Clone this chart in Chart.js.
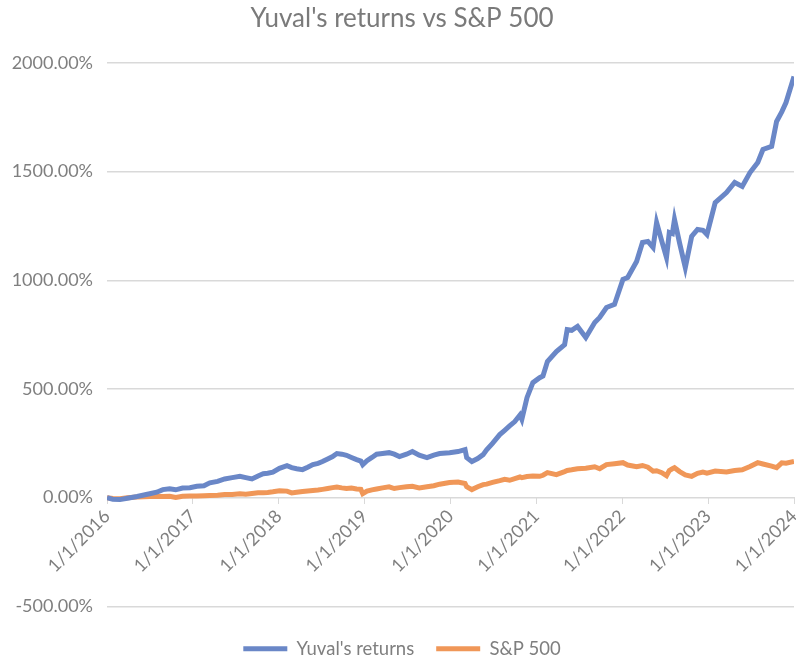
<!DOCTYPE html>
<html>
<head>
<meta charset="utf-8">
<script src="https://cdn.jsdelivr.net/npm/chart.js@4.4.1/dist/chart.umd.min.js"></script>
<style>
  html, body { margin: 0; padding: 0; background: #fff; }
  #wrap { width: 796px; height: 662px; }
</style>
</head>
<body>
<div id="wrap"><canvas id="returnsChart"></canvas></div>
<script>
// dates of each reading and the two cumulative return series (in %)
const dates = [
  '2016-01-01','2016-01-26','2016-02-25','2016-03-28','2016-05-08','2016-07-01','2016-07-31','2016-08-26',
  '2016-09-24','2016-10-20','2016-11-18','2016-12-19','2017-01-18','2017-02-17','2017-03-14','2017-04-16',
  '2017-05-16','2017-06-17','2017-07-20','2017-08-14','2017-09-09','2017-10-05','2017-10-27','2017-11-15',
  '2017-12-07','2018-01-04','2018-02-05','2018-02-25','2018-03-18','2018-04-12','2018-05-04','2018-05-26',
  '2018-06-17','2018-07-06','2018-07-28','2018-08-18','2018-09-05','2018-09-26','2018-10-16','2018-11-06',
  '2018-11-28','2018-12-16','2018-12-24','2019-01-11','2019-02-01','2019-02-21','2019-03-18','2019-04-15',
  '2019-05-07','2019-05-29','2019-06-28','2019-07-23','2019-08-21','2019-09-23','2019-10-22','2019-11-16',
  '2019-12-28','2020-02-02','2020-03-03','2020-03-10','2020-04-01','2020-04-26','2020-05-19','2020-06-03',
  '2020-06-28','2020-07-29','2020-08-19','2020-09-09','2020-10-01','2020-10-23','2020-10-31','2020-11-22',
  '2020-12-17','2021-01-15','2021-01-29','2021-02-17','2021-03-27','2021-05-01','2021-05-12','2021-05-31',
  '2021-06-25','2021-07-30','2021-09-06','2021-09-27','2021-10-26','2021-11-29','2022-01-04','2022-01-24',
  '2022-03-03','2022-03-28','2022-04-20','2022-05-12','2022-05-27','2022-06-18','2022-07-08','2022-07-20',
  '2022-08-02','2022-08-11','2022-09-02','2022-09-26','2022-10-23','2022-11-17','2022-12-10','2022-12-27',
  '2023-01-31','2023-03-20','2023-04-24','2023-05-26','2023-06-28','2023-07-31','2023-08-22','2023-09-28',
  '2023-10-19','2023-11-10','2023-11-28','2024-01-01'
];

const yuvalReturns = [
  0, -8, -9, -3, 5, 18, 25, 37,
  41, 36, 44, 46, 52, 55, 68, 75,
  86, 92, 98, 92, 86, 100, 110, 112,
  117, 135, 147, 138, 133, 129, 140, 152,
  158, 166, 178, 189, 203, 200, 195, 185,
  175, 168, 152, 170, 185, 200, 203, 207,
  200, 189, 200, 212, 195, 184, 196, 203,
  207, 212, 221, 184, 166, 180, 198, 220,
  250, 290, 310, 330, 350, 380, 360, 460,
  529, 552, 560, 626, 672, 704, 773, 770,
  788, 737, 806, 829, 875, 889, 1004, 1013,
  1087, 1174, 1179, 1151, 1266, 1180, 1105, 1220,
  1215, 1280, 1170, 1059, 1202, 1234, 1230, 1211,
  1358, 1404, 1450, 1432, 1496, 1542, 1602, 1616,
  1731, 1775, 1818, 1938
];

const spReturns = [
  0, -4, -5, 0, 3, 5, 6, 5,
  6, 1, 6, 8, 7, 9, 10, 11,
  14, 15, 18, 16, 19, 22, 23, 24,
  27, 32, 30, 22, 25, 28, 31, 33,
  35, 38, 42, 46, 49, 45, 42, 44,
  40, 38, 18, 30, 36, 40, 45, 50,
  42, 46, 50, 52, 45, 50, 55, 62,
  70, 72, 65, 50, 37, 50, 60, 62,
  70, 78, 84, 80, 88, 95, 92, 97,
  100, 98, 103, 115, 106, 120, 125, 128,
  133, 135, 142, 133, 152, 156, 161, 150,
  142, 148, 140, 122, 124, 115, 101, 125,
  133, 138, 120, 105, 98, 112, 118, 113,
  122, 118, 125, 128, 143, 161, 155, 145,
  138, 160, 158, 166
];

const seriesNames = ["Yuval's returns", 'S&P 500'];
const yTicks = [-500, 0, 500, 1000, 1500, 2000];

function toYear(s) {
  const d = new Date(s + 'T00:00:00Z');
  const start = Date.UTC(d.getUTCFullYear(), 0, 1);
  const end = Date.UTC(d.getUTCFullYear() + 1, 0, 1);
  return d.getUTCFullYear() + (d - start) / (end - start);
}

const xs = dates.map(toYear);
const pts = arr => arr.map((v, i) => ({ x: xs[i], y: v }));

const GREY = '#7f7f7f';
const GRID = '#d9d9d9';
Chart.defaults.font.family = 'Lato, "Open Sans", sans-serif';
Chart.defaults.color = GREY;

const ctx = document.getElementById('returnsChart');
new Chart(ctx, {
  type: 'line',
  data: {
    datasets: [
      {
        label: seriesNames[0],
        data: pts(yuvalReturns),
        borderColor: '#6a87c7',
        backgroundColor: '#6a87c7',
        borderWidth: 5,
        pointRadius: 0,
        tension: 0
      },
      {
        label: seriesNames[1],
        data: pts(spReturns),
        borderColor: '#f09758',
        backgroundColor: '#f09758',
        borderWidth: 5,
        pointRadius: 0,
        tension: 0
      }
    ]
  },
  options: {
    responsive: true,
    maintainAspectRatio: false,
    animation: false,
    layout: { padding: { left: 10, right: 2, top: 0, bottom: -6 } },
    plugins: {
      title: {
        display: true,
        text: "Yuval's returns vs S&P 500",
        color: '#7a7a7a',
        font: { size: 26, weight: 'normal' },
        padding: { top: 3.4, bottom: 28.4 }
      },
      legend: {
        position: 'bottom',
        title: { display: true, text: ' ', font: { size: 1 }, padding: 5 },
        labels: {
          usePointStyle: true,
          pointStyle: 'line',
          pointStyleWidth: 44,
          color: GREY,
          font: { size: 18.5 },
          padding: 22
        }
      },
      tooltip: { enabled: false }
    },
    scales: {
      x: {
        type: 'linear',
        position: { y: 0 },
        min: 2016,
        max: 2024,
        afterFit: s => { s.paddingRight = 0; s.paddingLeft = 0; },
        ticks: {
          stepSize: 1,
          minRotation: 45,
          maxRotation: 45,
          font: { size: 18 },
          color: GREY,
          padding: 2,
          callback: v => '1/1/' + v
        },
        grid: { drawOnChartArea: false, drawTicks: true, tickLength: 6, color: GRID },
        border: { color: GRID, width: 1 }
      },
      y: {
        min: -500,
        max: 2000,
        afterFit: s => { s.width = 97; },
        afterBuildTicks: s => { s.ticks = yTicks.map(v => ({ value: v })); },
        ticks: {
          font: { size: 18 },
          color: GREY,
          padding: 14,
          callback: v => v.toFixed(2) + '%'
        },
        grid: { color: GRID, lineWidth: 1.5, drawTicks: false },
        border: { display: false }
      }
    }
  }
});
</script>
</body>
</html>
